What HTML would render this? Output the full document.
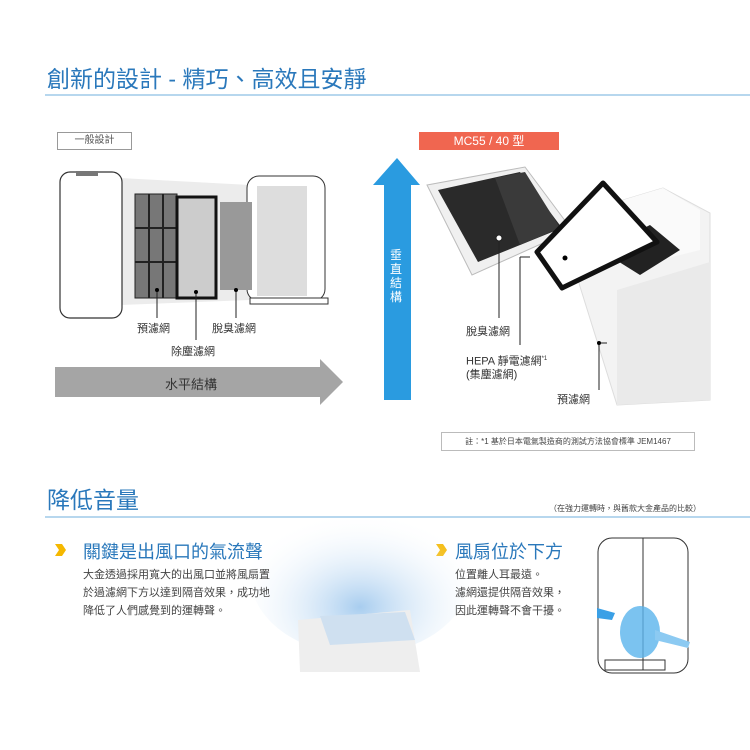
<!DOCTYPE html>
<html><head><meta charset="utf-8"><style>
body{margin:0;width:750px;height:750px;background:#fff;position:relative;overflow:hidden;font-family:"Liberation Sans","Noto Sans CJK TC",sans-serif}
.a{position:absolute;white-space:nowrap}
.h1{color:#2a78bb;font-size:23px}
.lab{font-size:11px;color:#333}
.body{font-size:11px;color:#444;line-height:18px}
.h2{color:#2a78bb;font-size:18px}
</style></head><body>
<div class="a h1" style="left:47px;top:60px">創新的設計 - 精巧、高效且安靜</div>
<div class="a" style="left:45px;top:94px;width:705px;height:2px;background:#b7d7ee"></div>

<div class="a lab" style="left:57px;top:132px;width:73px;height:16px;border:1px solid #999;text-align:center;font-size:10px;line-height:16px;color:#555">一般設計</div>

<svg class="a" style="left:0;top:0" width="750" height="470">
<polygon points="120,178 250,185 250,300 120,305" fill="#ececec"/>
<rect x="60" y="172" width="62" height="146" rx="10" fill="#fff" stroke="#333" stroke-width="1.2"/>
<rect x="76" y="171" width="22" height="5" fill="#777"/>
<rect x="247" y="176" width="78" height="125" rx="12" fill="#fff" stroke="#333"/>
<rect x="257" y="186" width="50" height="110" fill="#ddd"/>
<rect x="250" y="298" width="78" height="6" fill="#fff" stroke="#333"/>
<rect x="135" y="194" width="42" height="104" fill="#777" stroke="#222"/>
<g stroke="#222" stroke-width="2"><line x1="149" y1="194" x2="149" y2="298"/><line x1="163" y1="194" x2="163" y2="298"/><line x1="135" y1="228" x2="177" y2="228"/><line x1="135" y1="262" x2="177" y2="262"/></g>
<rect x="177" y="197" width="39" height="101" fill="#ccc" stroke="#111" stroke-width="3"/>
<rect x="220" y="202" width="32" height="88" fill="#999"/>
<g stroke="#222"><line x1="157" y1="290" x2="157" y2="318"/><line x1="196" y1="292" x2="196" y2="340"/><line x1="236" y1="290" x2="236" y2="318"/></g>
<g fill="#000"><circle cx="157" cy="290" r="2"/><circle cx="196" cy="292" r="2"/><circle cx="236" cy="290" r="2"/></g>
<polygon points="55,367 320,367 320,359 343,382 320,405 320,397 55,397" fill="#a5a5a5"/>
<polygon points="384,400 384,185 373,185 397,158 420,185 411,185 411,400" fill="#2a9be0"/>
<!-- right image: main unit -->
<polygon points="577,277 623,200 663,188 710,213 710,400 617,405" fill="#f3f3f3" stroke="#ddd"/>
<polygon points="617,290 710,262 710,400 617,405" fill="#eaeaea"/>
<polygon points="623,200 663,188 700,210 700,250 640,265" fill="#fafafa"/>
<polygon points="600,250 650,225 680,250 640,275" fill="#222"/>
<!-- drawer -->
<polygon points="427,185 525,167 572,230 472,275" fill="#f0f0f0" stroke="#bbb"/>
<polygon points="438,190 520,172 562,228 478,262" fill="#2a2a2a"/>
<polygon points="495,178 525,172 560,228 520,245" fill="#3a3a3a"/>
<!-- HEPA -->
<polygon points="537,252 603,183 657,242 562,288" fill="#fff" stroke="#111" stroke-width="5" stroke-linejoin="round"/>
<g stroke="#222"><line x1="499" y1="238" x2="499" y2="318"/><line x1="520" y1="257" x2="520" y2="345"/><line x1="520" y1="257" x2="530" y2="257"/><line x1="599" y1="343" x2="599" y2="390"/><line x1="599" y1="343" x2="607" y2="343"/></g>
<circle cx="499" cy="238" r="3" fill="#fff" stroke="#222"/><circle cx="565" cy="258" r="2.5" fill="#000"/><circle cx="599" cy="343" r="2" fill="#000"/>
</svg>
<div class="a lab" style="left:137px;top:320px">預濾網</div>
<div class="a lab" style="left:212px;top:320px">脫臭濾網</div>
<div class="a lab" style="left:171px;top:343px">除塵濾網</div>
<div class="a" style="left:165px;top:374px;font-size:13px;color:#333">水平結構</div>
<div class="a" style="left:390px;top:248px;font-size:12px;color:#fff;white-space:normal;width:14px;line-height:14px">垂直結構</div>
<div class="a" style="left:419px;top:132px;width:140px;height:18px;background:#f06650;color:#fff;font-size:12px;text-align:center;line-height:18px">MC55 / 40 型</div>
<div class="a lab" style="left:466px;top:323px">脫臭濾網</div>
<div class="a lab" style="left:466px;top:353px;line-height:13px">HEPA 靜電濾網<sup style="font-size:6px">*1</sup><br>(集塵濾網)</div>
<div class="a lab" style="left:557px;top:391px">預濾網</div>
<div class="a" style="left:441px;top:432px;width:252px;height:17px;border:1px solid #bbb;font-size:8px;color:#444;line-height:17px;text-align:center">註：*1 基於日本電氣製造商的測試方法協會標準 JEM1467</div>

<div class="a h1" style="left:47px;top:481px">降低音量</div>
<div class="a" style="left:549px;top:503px;font-size:8px;color:#444">（在強力運轉時，與舊款大金產品的比較）</div>
<div class="a" style="left:45px;top:516px;width:705px;height:2px;background:#b7d7ee"></div>

<svg class="a" style="left:0;top:520px" width="750" height="230">
<defs><radialGradient id="m" cx="50%" cy="70%" r="60%"><stop offset="0" stop-color="#a8cdef"/><stop offset="1" stop-color="#fff" stop-opacity="0"/></radialGradient></defs>
<polygon points="55,24 62,24 66,30 62,36 55,36 59,30" fill="#f5b800"/>
<polygon points="436,24 443,24 447,30 443,36 436,36 440,30" fill="#f5b800"/>
<ellipse cx="360" cy="55" rx="110" ry="80" fill="url(#m)"/>
<polygon points="298,100 410,90 420,152 300,152" fill="#eee"/>
<polygon points="320,96 405,92 415,120 330,125" fill="#cfe0f0"/>
<rect x="598" y="18" width="90" height="135" rx="14" fill="none" stroke="#333"/>
<line x1="643" y1="18" x2="643" y2="150" stroke="#333"/>
<ellipse cx="640" cy="112" rx="20" ry="26" fill="#5ab4ec" opacity=".8"/>
<polygon points="597,88 615,93 612,100 597,98" fill="#3aa0e6"/>
<polygon points="655,110 690,122 688,128 655,120" fill="#8ccaf2"/>
<rect x="605" y="140" width="60" height="10" fill="none" stroke="#333"/>
</svg>
<div class="a h2" style="left:83px;top:538px">關鍵是出風口的氣流聲</div>
<div class="a body" style="left:83px;top:566px">大金透過採用寬大的出風口並將風扇置<br>於過濾網下方以達到隔音效果，成功地<br>降低了人們感覺到的運轉聲。</div>
<div class="a h2" style="left:455px;top:538px">風扇位於下方</div>
<div class="a body" style="left:455px;top:566px">位置離人耳最遠。<br>濾網還提供隔音效果，<br>因此運轉聲不會干擾。</div>
</body></html>
